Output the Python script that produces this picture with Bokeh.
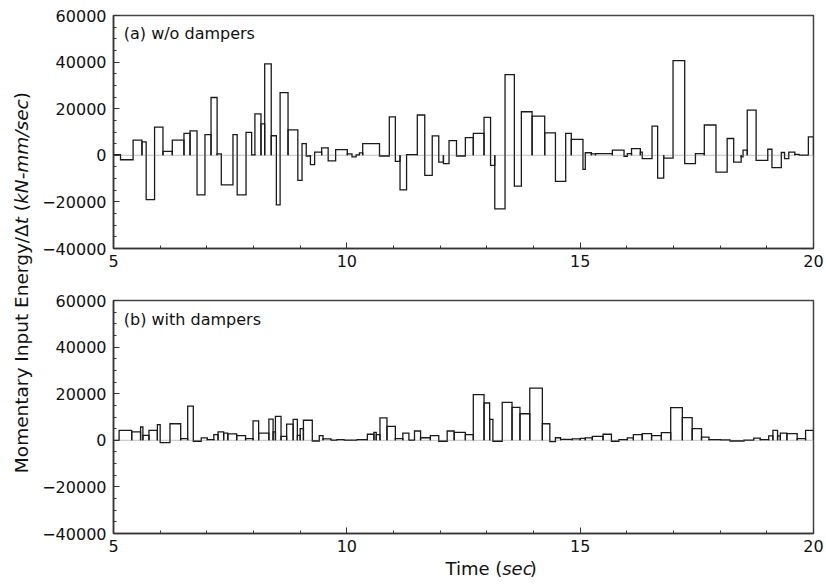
from math import pi
from bokeh.plotting import figure
from bokeh.models import Range1d, FixedTicker, Span
from bokeh.layouts import row, column
from bokeh.core.properties import value
from bokeh.embed import file_html
from bokeh.resources import INLINE

# ---------------- data ----------------
# (a) w/o dampers : interval boundaries (sec) and momentary input energy / dt
t_a = [5.00, 5.15, 5.42, 5.61, 5.70, 5.88, 6.06, 6.26, 6.51, 6.64, 6.79, 6.96, 7.09, 7.22, 7.31,
       7.56, 7.65, 7.84, 7.96, 8.03, 8.16, 8.24, 8.38, 8.49, 8.57, 8.74, 8.95, 9.04, 9.13, 9.22,
       9.31, 9.46, 9.60, 9.76, 10.01, 10.11, 10.20, 10.27, 10.34, 10.70, 10.91, 11.04, 11.14,
       11.28, 11.51, 11.67, 11.83, 11.97, 12.07, 12.19, 12.35, 12.54, 12.71, 12.94, 13.08, 13.17,
       13.39, 13.59, 13.74, 13.97, 14.24, 14.47, 14.69, 14.81, 15.06, 15.11, 15.24, 15.33, 15.69,
       15.94, 16.01, 16.10, 16.29, 16.33, 16.54, 16.66, 16.79, 16.99, 17.24, 17.47, 17.66, 17.91,
       18.15, 18.29, 18.45, 18.49, 18.58, 18.77, 19.02, 19.11, 19.31, 19.38, 19.47, 19.60, 19.69,
       19.89, 20.00]
e_a = [300, -1900, 6500, 5800, -19000, 12100, 1700, 6500, 9400, 10500, -17000, 8900, 24800, 600,
       -12700, 8900, -17000, 9800, 200, 17800, 13500, 39200, 8400, -21300, 26900, 10900, -10800,
       5000, -300, -4000, 1400, 3200, -2400, 2400, 600, -700, 200, 1000, 5000, -300, 16500, -2600,
       -14800, 300, 17300, -8600, 8300, -2900, -3600, 6300, -300, 7600, 9400, 16300, -4300, -23000,
       34600, -13200, 18700, 16800, 9600, -11200, 9400, 6800, -6000, 1100, 600, 700, 2200, -400, 700,
       2900, 1400, -1400, 12500, -9800, -1200, 40600, -3600, 700, 13000, -7200, 7200, -2900, -700,
       2200, 19400, -2200, 2600, -5300, 1200, -1400, 1400, 400, 100, 7900]

# (b) with dampers
t_b = [5.00, 5.12, 5.39, 5.58, 5.63, 5.76, 5.94, 6.00, 6.21, 6.44, 6.59, 6.71, 6.88, 7.01, 7.15,
       7.24, 7.36, 7.45, 7.64, 7.83, 7.99, 8.11, 8.33, 8.42, 8.47, 8.59, 8.71, 8.85, 8.94, 9.00,
       9.07, 9.26, 9.41, 9.49, 9.66, 9.79, 9.94, 10.22, 10.44, 10.58, 10.63, 10.71, 10.86, 11.04,
       11.20, 11.33, 11.45, 11.58, 11.79, 11.97, 12.15, 12.30, 12.54, 12.71, 12.94, 13.06, 13.13,
       13.33, 13.54, 13.71, 13.92, 14.19, 14.35, 14.47, 14.58, 14.83, 15.00, 15.11, 15.26, 15.49,
       15.67, 15.83, 16.01, 16.14, 16.33, 16.53, 16.74, 16.94, 17.19, 17.40, 17.60, 17.76, 18.01,
       18.21, 18.51, 18.72, 18.86, 19.04, 19.13, 19.23, 19.29, 19.43, 19.65, 19.83, 20.00]
e_b = [0, 4300, 3600, 5700, 2100, 4300, 6700, -1000, 7100, 700, 14700, -400, 1000, 300, 2400, 3600,
       3100, 2800, 2000, 700, 8300, 3100, 9100, 3600, 10300, 1700, 6900, 9000, 2100, 5000, 8600,
       -300, 2000, 600, 100, 300, 100, 300, 2600, 3400, 2400, 9600, 6000, 700, 3100, 100, 4000, 1100,
       2000, -400, 4000, 3400, 2400, 19600, 16000, 9000, -400, 16300, 14100, 11400, 22400, 7100,
       -600, 1100, 400, 600, 800, 1000, 1700, 2600, -400, 300, 1000, 2400, 2900, 2000, 3300, 14000,
       9700, 5000, 1400, 300, 150, -300, 100, 900, 300, 1900, 4300, 1900, 3100, 2900, 700, 4300]

panel_titles = ["(a) w/o dampers", "(b) with dampers"]
x_major = [5, 10, 15, 20]
x_minor = list(range(5, 21))
y_major = [-40000, -20000, 0, 20000, 40000, 60000]
y_minor = list(range(-40000, 60001, 5000))
y_labels = {-40000: "\u221240000", -20000: "\u221220000", 0: "0",
            20000: "20000", 40000: "40000", 60000: "60000"}

FONT = "DejaVu Sans"
INK = "#1a1a1a"
TOTAL_H = 585


def panel(t, e, title, height, btop, bbot, title_y):
    p = figure(width=786, height=height, x_range=Range1d(5, 20), y_range=Range1d(-40000, 60000),
               output_backend="svg", toolbar_location=None, title=None,
               min_border_left=75, min_border_right=11, min_border_top=btop, min_border_bottom=bbot)
    p.xgrid.visible = False
    p.ygrid.visible = False
    p.outline_line_color = "#444444"
    p.outline_line_width = 1.5
    p.add_layout(Span(location=0, dimension="width", line_color="#b0b0b0", line_width=0.8,
                      level="underlay"))
    # open bars: left edge, top, right edge (no bottom edge on the zero line)
    xs = [[l, l, r, r] for l, r in zip(t[:-1], t[1:])]
    ys = [[0, v, v, 0] for v in e]
    p.multi_line(xs=xs, ys=ys, line_color=INK, line_width=1.3, line_join="miter")
    p.text(x=[5.22], y=[title_y], text=[title], text_font=value(FONT), text_font_size="16px",
           text_baseline="middle", text_align="left", text_color="#111111")
    p.xaxis.ticker = FixedTicker(ticks=x_major, minor_ticks=x_minor)
    p.yaxis.ticker = FixedTicker(ticks=y_major, minor_ticks=y_minor)
    p.yaxis.major_label_overrides = y_labels
    for ax in (p.xaxis[0], p.yaxis[0]):
        ax.axis_line_color = "#333333"
        ax.axis_line_width = 1.5
        ax.major_tick_in = 6
        ax.major_tick_out = 0
        ax.minor_tick_in = 3
        ax.minor_tick_out = 0
        ax.major_tick_line_color = "#333333"
        ax.minor_tick_line_color = "#333333"
        ax.major_label_text_font = FONT
        ax.major_label_text_font_size = "16px"
        ax.major_label_text_color = "#111111"
    p.xaxis.major_label_standoff = 6
    p.yaxis.major_label_standoff = 7
    return p


top = panel(t_a, e_a, panel_titles[0], 278, 15, 30, 52400)
bot = panel(t_b, e_b, panel_titles[1], 281, 22, 26, 52000)

# approximate DejaVu Sans advance widths (em)
EM = {"M": .863, "o": .612, "m": .974, "e": .615, "n": .634, "t": .392, "a": .613, "r": .411,
      "y": .592, " ": .318, "I": .295, "p": .635, "u": .634, "E": .632, "g": .635, "/": .337,
      "\u0394": .684, "(": .390, ")": .390, "k": .579, "N": .748, "-": .361, "s": .521,
      "c": .550, "T": .611, "i": .278}


def width(s, fs):
    return sum(EM.get(ch, .6) for ch in s) * fs


def txt(fig, x, y, s, fs, style, align, angle=0.0):
    fig.text(x=[x], y=[y], text=[s], angle=angle, text_font=value(FONT),
             text_font_size=f"{fs}px", text_font_style=style, text_align=align,
             text_baseline="middle", text_color="#111111")


# ---- y axis title (rotated, mixed upright / italic) ----
ylab = figure(width=38, height=TOTAL_H, x_range=Range1d(0, 38), y_range=Range1d(0, TOTAL_H),
              output_backend="svg", toolbar_location=None, title=None,
              x_axis_type=None, y_axis_type=None, min_border=0, outline_line_color=None)
yfs = 18.5
start_wy = 473.0
b1 = start_wy - width("Momentary Input Energy/\u0394", yfs)       # start of italic t
b2 = b1 - width("t", yfs) - width(" (", yfs)                       # start of kN-mm/sec
b3 = b2 - width("kN-mm/sec", yfs)                                  # start of ")"
d = lambda wy: TOTAL_H - wy
txt(ylab, 21, d(b1), "Momentary Input Energy/\u0394", yfs, "normal", "right", pi / 2)
txt(ylab, 21, d(b1), "t", yfs, "italic", "left", pi / 2)
txt(ylab, 21, d(b2), "(", yfs, "normal", "right", pi / 2)
txt(ylab, 21, d(b2), "kN-mm/sec", yfs, "italic", "left", pi / 2)
txt(ylab, 21, d(b3), ")", yfs, "normal", "left", pi / 2)

# ---- x axis title ----
xh = TOTAL_H - 278 - 281
xlab = figure(width=786, height=xh, x_range=Range1d(38, 824), y_range=Range1d(0, xh),
              output_backend="svg", toolbar_location=None, title=None,
              x_axis_type=None, y_axis_type=None, min_border=0, outline_line_color=None)
xfs = 18
xtot = width("Time (sec)", xfs)
bx = 464 - xtot / 2 + width("Time (", xfs) + 0.5
yx = TOTAL_H - 567.5
txt(xlab, bx, yx, "Time (", xfs, "normal", "right")
txt(xlab, bx, yx, "sec", xfs, "italic", "left")
txt(xlab, bx + width("sec", xfs) + 0.5, yx, ")", xfs, "normal", "left")

layout = row(ylab, column(top, bot, xlab))
open("out.html", "w").write(file_html(layout, INLINE))
